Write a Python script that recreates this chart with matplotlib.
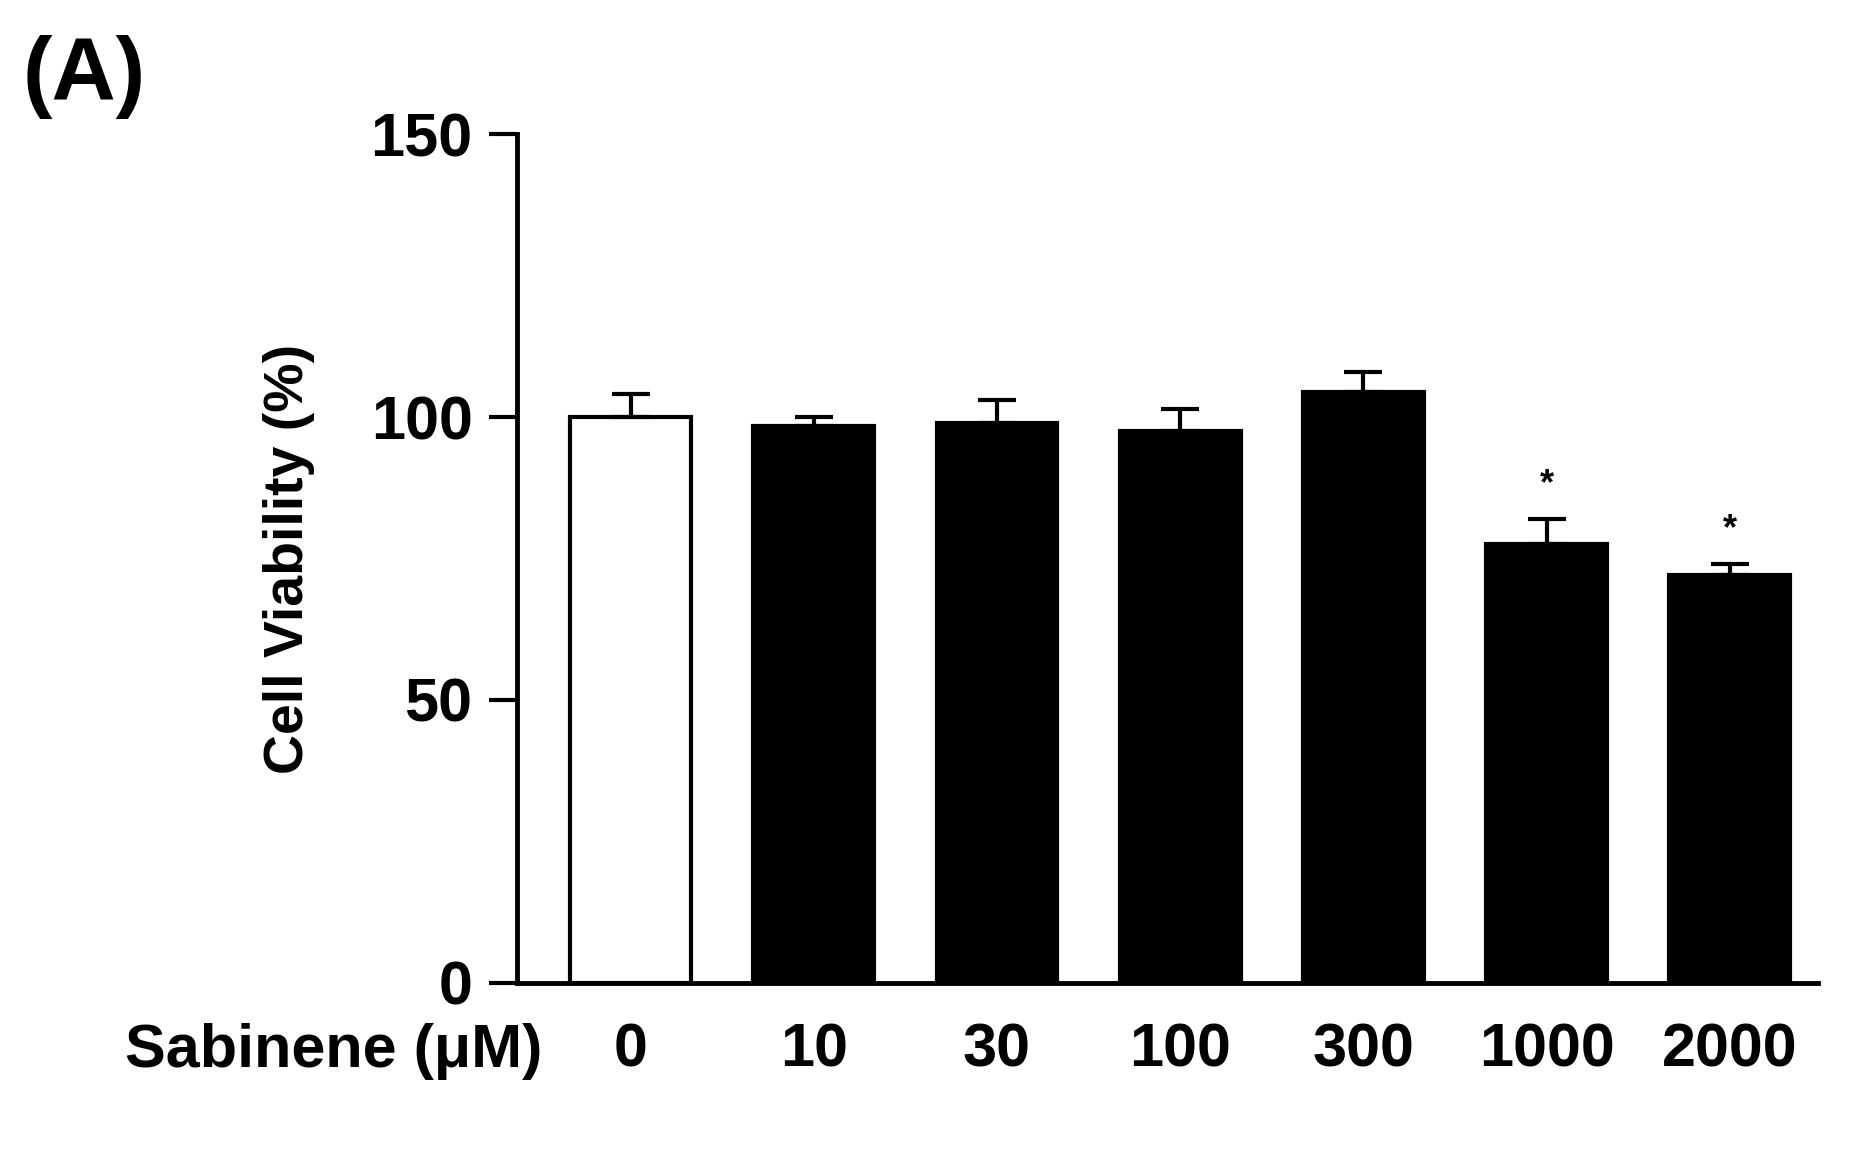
import numpy as np
import matplotlib.pyplot as plt

plt.rcParams['font.family'] = ['Liberation Sans', 'DejaVu Sans']

doses = ['0', '10', '30', '100', '300', '1000', '2000']
viability = [100, 98.5, 99, 97.5, 104.5, 77.5, 72]
sem = [4, 1.5, 4, 4, 3.5, 4.5, 2]
significant = [False, False, False, False, False, True, True]

fig = plt.figure(figsize=(18.53, 11.66), dpi=100)
ax = fig.add_axes([0.279, 0.157, 0.702, 0.728])

x = np.arange(len(doses))
colors = ['white'] + ['black'] * (len(doses) - 1)
ax.bar(x, viability, width=0.66, color=colors, edgecolor='black', linewidth=3,
       yerr=[np.zeros(len(sem)), sem], error_kw=dict(ecolor='black', elinewidth=3, capsize=14, capthick=3))
for xi, v, s, sig in zip(x, viability, sem, significant):
    if sig:
        ax.text(xi, v + s + 3, '*', ha='center', va='bottom', fontsize=26, fontweight='bold')

ax.set_xlim(-0.62, 6.48)
ax.set_ylim(0, 150)
ax.set_yticks([0, 50, 100, 150])
ax.tick_params(axis='y', direction='out', length=20, width=3, labelsize=44, pad=12)
for lab in ax.get_yticklabels():
    lab.set_fontweight('bold')
ax.set_xticks([])
for s in ['top', 'right']:
    ax.spines[s].set_visible(False)
for s in ['left', 'bottom']:
    ax.spines[s].set_linewidth(3.5)
ax.spines['left'].set_bounds(0, 150)
ax.set_ylabel('Cell Viability (%)', fontsize=40, fontweight='bold', labelpad=40)

for xi, d in zip(x, doses):
    ax.text(xi, -7, d, ha='center', va='top', fontsize=44, fontweight='bold')
ax.text(-0.48, -7, 'Sabinene (\u03bcM)', ha='right', va='top', fontsize=44, fontweight='bold')
fig.text(0.012, 0.97, '(A)', ha='left', va='top', fontsize=64, fontweight='bold')

fig.savefig('out.png', dpi=100)
